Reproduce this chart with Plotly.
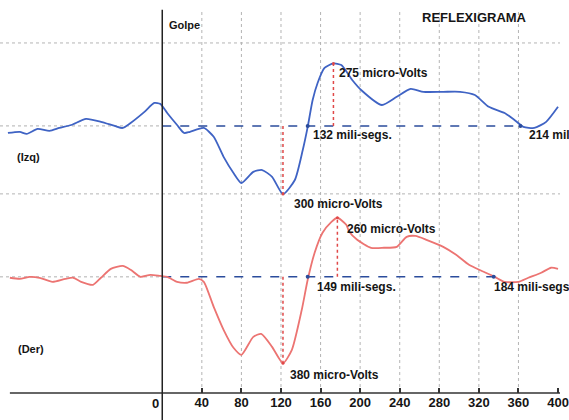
import plotly.graph_objects as go

# ---------------- data (ms, micro-Volts) ----------------
t_izq = [-156, -144, -137, -126, -114, -104, -92, -77, -62, -48, -40, -32, -18, -8, -2, 5, 15, 22, 28, 42,
         52, 62, 72, 80, 92, 101, 111, 122, 134, 142, 147, 152, 157, 164, 173, 181, 192, 201, 222, 237,
         251, 264, 284, 301, 316, 330, 346, 356, 365, 376, 388, 400]
v_izq = [-31, -26, -35, -13, -22, -9, 4, 31, 18, 0, -9, 13, 62, 101, 97, 57, 4, -31, -26, -9,
         -48, -136, -207, -251, -202, -194, -224, -300, -238, -106, -4, 114, 189, 255, 275, 268, 202, 158, 92, 128,
         163, 150, 150, 150, 136, 84, 57, 26, -4, -9, 18, 84]

t_der = [-154, -144, -134, -124, -111, -98, -90, -82, -70, -62, -52, -40, -32, -22, -12, -2, 5, 15, 25, 37,
         42, 52, 62, 72, 80, 92, 100, 111, 122, 131, 141, 147, 154, 162, 171, 177, 186, 189, 197, 211,
         224, 237, 247, 256, 267, 284, 297, 310, 323, 336, 346, 360, 370, 383, 393, 400]
v_der = [-4, -9, 0, -4, -22, -9, -4, -22, -35, -4, 35, 48, 31, 0, 9, 4, 0, -22, -26, -9,
         -22, -132, -233, -312, -343, -264, -251, -308, -380, -321, -145, -13, 106, 194, 242, 260, 229, 198, 163, 128,
         128, 132, 176, 180, 163, 132, 97, 53, 26, 0, -22, -22, -4, 18, 40, 35]

OFFSET_DER = -664          # vertical offset of the right-side channel
GRID_ABOVE = 365           # dotted grid line above each baseline
x_ticks = [40, 80, 120, 160, 200, 240, 280, 320, 360, 400]
grid_x = [40, 80, 120, 160, 200, 240, 280, 320, 360]
cross_izq = [147, 362]
cross_der = [147, 335]

labels_izq = ["275 micro-Volts", "132 mili-segs.", "300 micro-Volts", "214 mili-segs."]
labels_der = ["260 micro-Volts", "149 mili-segs.", "184 mili-segs.", "380 micro-Volts"]

X_RANGE = [-164, 402]
Y_RANGE = [-1175, 554]

BLUE = "#3f63c4"
RED = "#ec7472"
FONT = "Liberation Sans, Arial, sans-serif"

v_der_shift = [v + OFFSET_DER for v in v_der]

fig = go.Figure()

shapes = []
grid_style = dict(color="#b4b4b4", width=1, dash="dot")
# horizontal dotted grid lines
for base in (0, OFFSET_DER):
    shapes.append(dict(type="line", xref="paper", yref="y", x0=0, x1=1,
                       y0=base + GRID_ABOVE, y1=base + GRID_ABOVE, line=grid_style, layer="below"))
    # dotted baseline left of stimulus
    shapes.append(dict(type="line", xref="x", yref="y", x0=X_RANGE[0], x1=0,
                       y0=base, y1=base, line=dict(color="#b0b0b0", width=1, dash="dot"), layer="below"))
# vertical dotted grid lines
for gx in grid_x:
    shapes.append(dict(type="line", xref="x", yref="paper", x0=gx, x1=gx, y0=0, y1=0.975,
                       line=grid_style, layer="below"))
# dashed baselines (blue)
shapes.append(dict(type="line", xref="x", yref="y", x0=0, x1=cross_izq[1], y0=0, y1=0,
                   line=dict(color="#2b4c9c", width=1.5, dash="dash"), layer="below"))
shapes.append(dict(type="line", xref="x", yref="y", x0=0, x1=cross_der[1], y0=OFFSET_DER, y1=OFFSET_DER,
                   line=dict(color="#2b4c9c", width=1.5, dash="dash"), layer="below"))

# red dotted markers from baseline to extrema
def extrema(t, v):
    imin = min(range(len(v)), key=lambda i: v[i])
    imax = max(range(len(v)), key=lambda i: v[i] if t[i] > 0 else -1e9)
    return (t[imin], v[imin]), (t[imax], v[imax])

(tmin_i, vmin_i), (tmax_i, vmax_i) = extrema(t_izq, v_izq)
(tmin_d, vmin_d), (tmax_d, vmax_d) = extrema(t_der, v_der)
for (tt, vv, base) in [(tmin_i, vmin_i, 0), (tmax_i, vmax_i, 0),
                       (tmin_d, vmin_d, OFFSET_DER), (tmax_d, vmax_d, OFFSET_DER)]:
    shapes.append(dict(type="line", xref="x", yref="y", x0=tt, x1=tt, y0=base, y1=base + vv,
                       line=dict(color="#e04848", width=1.5, dash="dot"), layer="below"))

# x axis line
shapes.append(dict(type="line", xref="x", yref="paper", x0=-154, x1=X_RANGE[1], y0=0, y1=0,
                   line=dict(color="#333333", width=1.5)))
# stimulus vertical line
shapes.append(dict(type="line", xref="x", yref="paper", x0=0, x1=0, y0=-0.07, y1=0.975,
                   line=dict(color="#222222", width=1.5)))

fig.add_trace(go.Scatter(x=t_izq, y=v_izq, mode="lines", line=dict(color=BLUE, width=1.8, shape="spline", smoothing=0.6),
                         hoverinfo="skip", showlegend=False))
fig.add_trace(go.Scatter(x=t_der, y=v_der_shift, mode="lines", line=dict(color=RED, width=1.8, shape="spline", smoothing=0.6),
                         hoverinfo="skip", showlegend=False))
# crossing dots
fig.add_trace(go.Scatter(x=cross_izq + cross_der, y=[0, 0, OFFSET_DER, OFFSET_DER], mode="markers",
                         marker=dict(color="#2b4c9c", size=4), hoverinfo="skip", showlegend=False))
fig.add_trace(go.Scatter(x=[tmin_i, tmax_i, tmin_d, tmax_d],
                         y=[vmin_i, vmax_i, vmin_d + OFFSET_DER, vmax_d + OFFSET_DER], mode="markers",
                         marker=dict(color="#e04848", size=3), hoverinfo="skip", showlegend=False))

def txt(x, y, s, size=12, xanchor="left"):
    return dict(x=x, y=y, xref="x", yref="y", text="<b>%s</b>" % s, showarrow=False,
                xanchor=xanchor, yanchor="middle", font=dict(family=FONT, size=size, color="#151515"))

ann = [
    txt(5, 444, "Golpe", size=11),
    txt(261, 475, "REFLEXIGRAMA", size=13),
    txt(-149, -136, "(Izq)", size=11),
    txt(-148, -981, "(Der)", size=11),
    txt(177, 233, labels_izq[0]),
    txt(150, -40, labels_izq[1]),
    txt(131, -343, labels_izq[2]),
    txt(369, -40, labels_izq[3]),
    txt(185, -453, labels_der[0]),
    txt(154, -708, labels_der[1]),
    txt(333, -708, labels_der[2]),
    txt(127, -1096, labels_der[3]),
    dict(x=0, y=0, xref="x", yref="paper", text="<b>0</b>", showarrow=False, xanchor="right", yanchor="top",
         xshift=-1, yshift=-1, font=dict(family=FONT, size=13, color="#151515")),
]

fig.update_layout(
    width=569, height=420,
    margin=dict(l=0, r=0, t=0, b=27),
    paper_bgcolor="white", plot_bgcolor="white",
    shapes=shapes, annotations=ann,
    xaxis=dict(range=X_RANGE, showgrid=False, zeroline=False, showline=False,
               tickmode="array", tickvals=x_ticks, ticktext=["<b>%d</b>" % v for v in x_ticks],
               ticks="inside", ticklen=5, tickwidth=1.5, tickcolor="#333333",
               tickfont=dict(family=FONT, size=13, color="#151515"), ticklabeloverflow="allow"),
    yaxis=dict(range=Y_RANGE, showgrid=False, zeroline=False, showline=False, showticklabels=False, ticks=""),
)

fig.write_html("out.html")
